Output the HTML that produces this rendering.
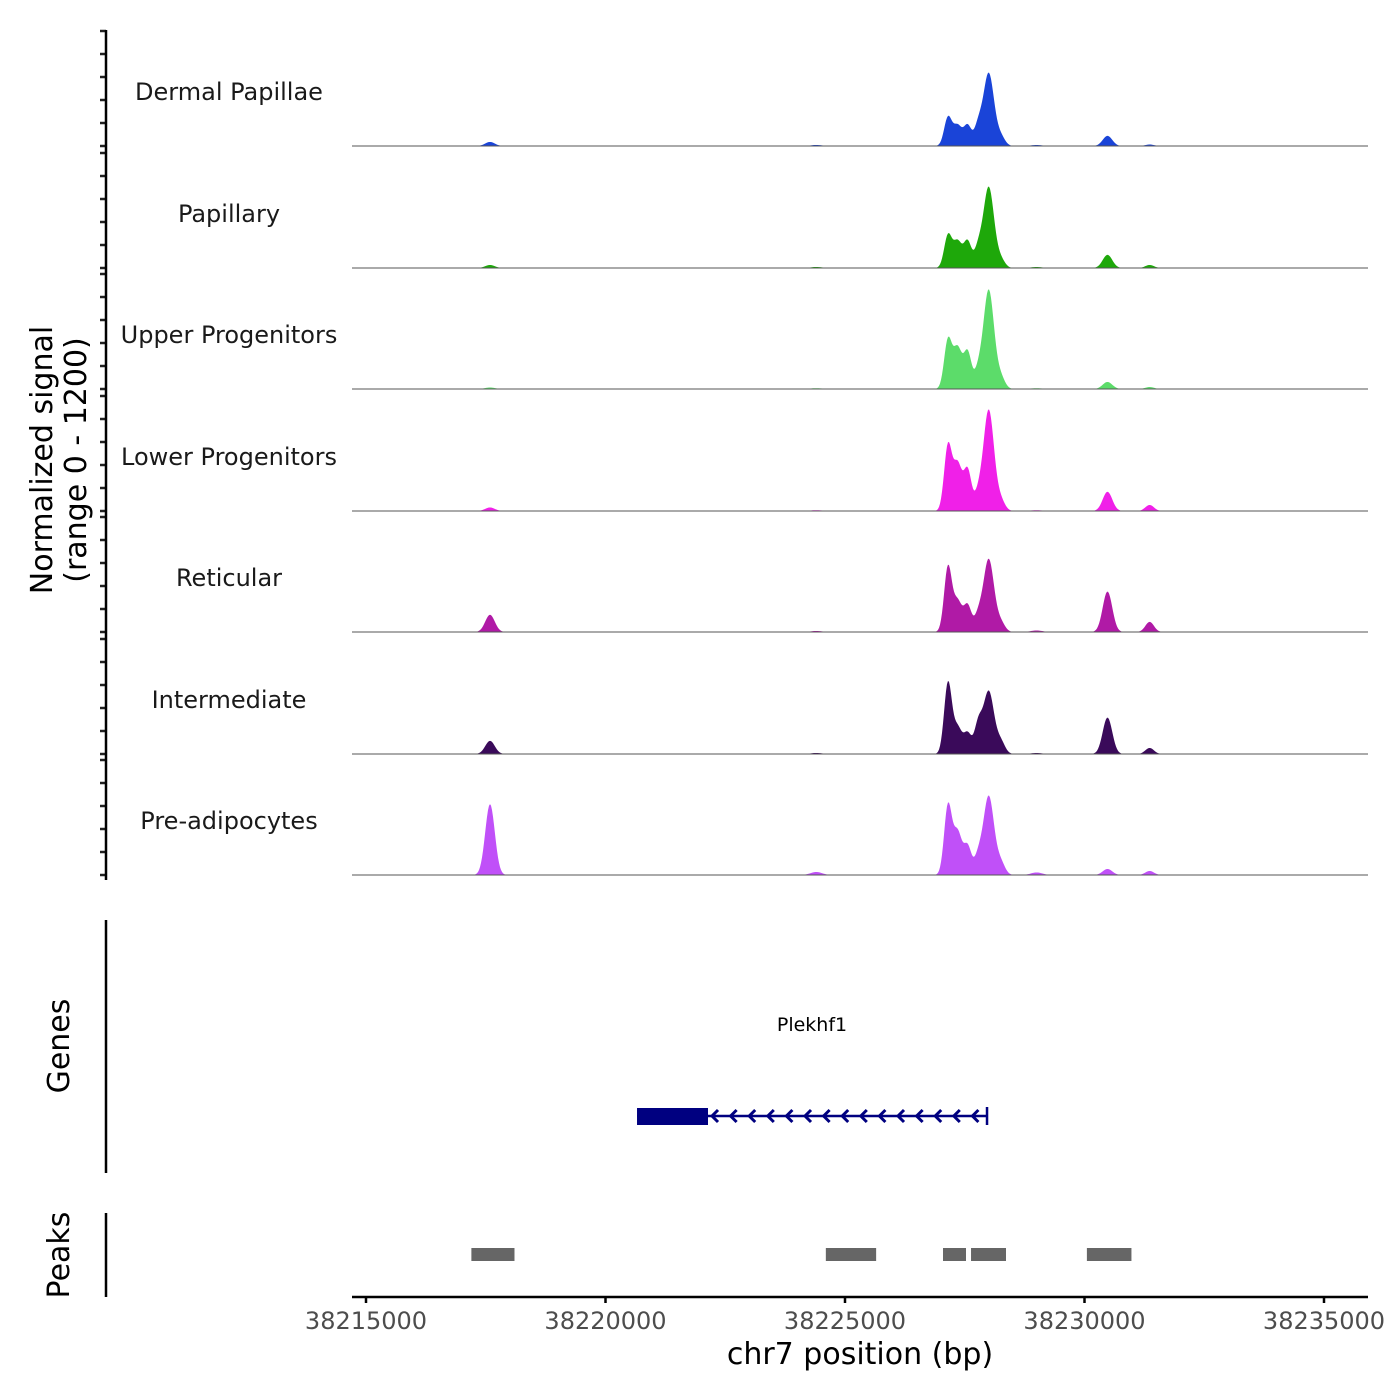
<!DOCTYPE html>
<html><head><meta charset="utf-8"><style>
body{margin:0;background:#fff}
svg{display:block;font-family:"DejaVu Sans","Liberation Sans",sans-serif}
</style></head><body>
<svg id="chart" width="1400" height="1400" viewBox="0 0 1400 1400"></svg>
<script>
// ---- data ----
const tracks = ["Dermal Papillae","Papillary","Upper Progenitors","Lower Progenitors","Reticular","Intermediate","Pre-adipocytes"];
const colors = ["#1a44d8","#1ea80a","#5cdc6a","#f020e8","#b01aa6","#3a0a5a","#c050f8"];
// peak components per track: centers (bp), heights (signal 0-1200), widths (bp sigma)
const peakCenters = [38217589,38227150,38227350,38227560,38227780,38228000,38228250,38230480,38231360,38224400,38229000];
const trackHeights = [
 [40, 280,200,200,190,720,90, 100,15,10,10],
 [30, 320,260,260,180,800,80, 130,30,10,10],
 [15, 480,400,360,160,980,110, 70,20,8,8],
 [35, 640,460,400,150,1000,100, 190,60,8,8],
 [170,640,300,260,150,720,90, 400,100,10,15],
 [130,700,260,200,280,620,120, 360,60,10,10],
 [700,680,420,280,170,780,120, 60,40,30,25]
];
const peakWidths = [100,80,90,80,80,110,90,100,90,120,120];
const xTicks = [38215000,38220000,38225000,38230000,38235000];
const peaksStart = [38217200,38224600,38227046,38227631,38230050];
const peaksEnd   = [38218100,38225650,38227526,38228361,38230980];
const geneStart = 38220658, geneEnd = 38227965, cdsEnd = 38222140;

// ---- scales ----
const X0 = 38215000, PX0 = 366, PXK = 958/20000;
const x = bp => PX0 + (bp - X0) * PXK;
const baselines = [146,268,389,511,632,754,875];
const trackH = 121.5;
const y = (v, i) => baselines[i] - v / 1200 * trackH;

const NS = "http://www.w3.org/2000/svg";
const svg = document.getElementById('chart');
function el(tag, attrs, parent){const e=document.createElementNS(NS,tag);for(const k in attrs)e.setAttribute(k,attrs[k]);(parent||svg).appendChild(e);return e;}

tracks.forEach((name,i)=>{
  const g = el('g',{});
  
  
  let d = `M352,${baselines[i]}`;
  for(let px=352; px<=1368; px+=1){
    const bp = X0 + (px - PX0)/PXK;
    let v = 0;
    trackHeights[i].forEach((h,k)=>{const z=(bp-peakCenters[k])/peakWidths[k]; v += h*Math.exp(-0.5*z*z);});
    d += ` L${px},${y(Math.min(v,1200),i).toFixed(2)}`;
  }
  d += ` L1368,${baselines[i]} Z`;
  const p = el('path',{d, fill:colors[i]}, g);
  
  
  const bl = el('line',{x1:352,x2:1368,y1:baselines[i],y2:baselines[i],stroke:'#555','stroke-width':1}, g);
  
  
  const t = el('text',{x:229,y:baselines[i]-46,'text-anchor':'middle','font-size':24,fill:'#1a1a1a'}, g);
  t.textContent = name;
  
  
  for(let k=0;k<=5;k++){
    const ty = baselines[i] - k*23;
    const tk = el('line',{x1:100,x2:106,y1:ty,y2:ty,stroke:'#222','stroke-width':2.5}, g);
    
    
  }
});
[[30,880,'y-axis-line'],[920,1173,'genes-axis-line'],[1213,1297,'peaks-axis-line']].forEach(a=>{
  const l = el('line',{x1:106,x2:106,y1:a[0],y2:a[1],stroke:'#000','stroke-width':2.5});
  
  
});
function rotText(txt,cx,cy,size,name){
  const t = el('text',{x:cx,y:cy,'text-anchor':'middle','font-size':size,transform:`rotate(-90 ${cx} ${cy})`,fill:'#000'});
  t.textContent = txt;
  
  
}
rotText('Normalized signal',52,460,30,'y-axis-title');
rotText('(range 0 - 1200)',86,460,30,'y-axis-subtitle');
rotText('Genes',69,1046,30,'genes-axis-title');
rotText('Peaks',69,1255,30,'peaks-axis-title');

const gg = el('g',{});


const gl = el('text',{x:812,y:1031,'text-anchor':'middle','font-size':19,fill:'#000'},gg);
gl.textContent='Plekhf1';


el('line',{x1:x(geneStart),x2:x(geneEnd),y1:1116,y2:1116,stroke:'#000080','stroke-width':2.5},gg);
el('rect',{x:x(geneStart),y:1108,width:x(cdsEnd)-x(geneStart),height:17,fill:'#000080'},gg);
el('line',{x1:x(geneEnd),x2:x(geneEnd),y1:1107,y2:1125,stroke:'#000080','stroke-width':2.5},gg);
for(let px=x(cdsEnd)+4; px<x(geneEnd)-6; px+=18.6){
  el('polyline',{points:`${px+6},${1110} ${px},${1116} ${px+6},${1122}`,fill:'none',stroke:'#000080','stroke-width':3},gg);
}
peaksStart.forEach((s,k)=>{
  const r = el('rect',{x:x(s),y:1248,width:x(peaksEnd[k])-x(s),height:13,fill:'#666'});
  
  
});
const xa = el('line',{x1:352,x2:1368,y1:1297,y2:1297,stroke:'#000','stroke-width':2.5});


xTicks.forEach(v=>{
  const tk = el('line',{x1:x(v),x2:x(v),y1:1297,y2:1303,stroke:'#000','stroke-width':2.5});
  
  
  const t = el('text',{x:x(v),y:1329,'text-anchor':'middle','font-size':24,fill:'#4d4d4d'});
  t.textContent = v;
  
  
});
const xt = el('text',{x:860,y:1364,'text-anchor':'middle','font-size':30,fill:'#000'});
xt.textContent='chr7 position (bp)';


</script>
</body></html>
